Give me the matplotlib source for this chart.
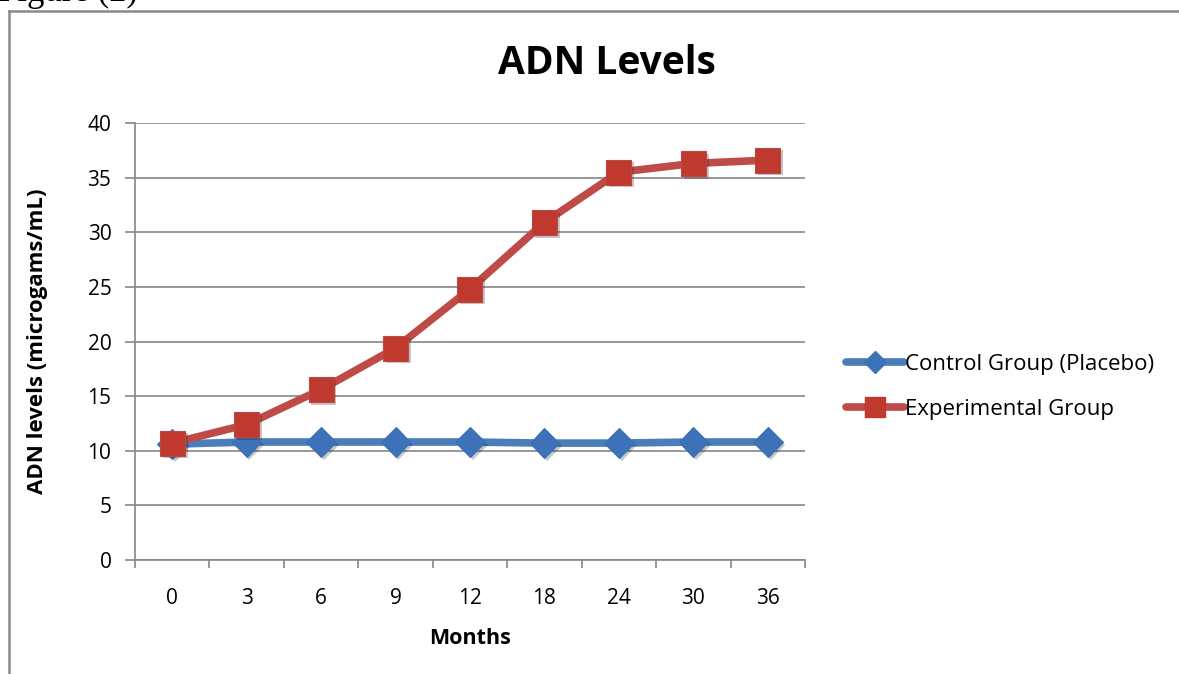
import matplotlib
matplotlib.use("Agg")
import matplotlib.pyplot as plt
import matplotlib.patheffects as pe
from matplotlib.lines import Line2D

# data
months = ["0", "3", "6", "9", "12", "18", "24", "30", "36"]
control = [10.6, 10.8, 10.8, 10.8, 10.8, 10.7, 10.7, 10.8, 10.8]
experimental = [10.7, 12.4, 15.6, 19.4, 24.8, 30.9, 35.5, 36.3, 36.6]
y_ticks = [0, 5, 10, 15, 20, 25, 30, 35, 40]

BLUE_LINE = "#4A7EBB"
BLUE_MARK = "#3D72B8"
RED_LINE = "#BE4B48"
RED_MARK = "#C0392F"
GRID = "#868686"

plt.rcParams["font.family"] = ["Open Sans", "DejaVu Sans"]

fig = plt.figure(figsize=(11.79, 6.74), dpi=100)
W, H = 1179, 674

# frame around the chart (cut off on the right and bottom)
fig.add_artist(Line2D([9 / W, 9 / W], [0, 1 - 11 / H], color="#898989", lw=1.8,
                      transform=fig.transFigure))
fig.add_artist(Line2D([9 / W, 1], [1 - 11 / H, 1 - 11 / H], color="#898989", lw=1.8,
                      transform=fig.transFigure))
fig.text(-2 / W, 1 - 1 / H, "Figure (2)", family="Liberation Serif", fontsize=25,
         ha="left", va="baseline")

ax = fig.add_axes([135 / W, 1 - 560 / H, 670 / W, 437 / H])

x = list(range(len(months)))
shadow = [pe.SimplePatchShadow(offset=(2, -2), alpha=0.25), pe.Normal()]

ax.plot(x, control, color=BLUE_LINE, lw=5.5, solid_capstyle="round", zorder=3)
ax.plot(x, control, ls="none", marker="D", ms=15, color=BLUE_MARK,
        markeredgecolor="#3A6FB0", markeredgewidth=0.8, zorder=4, path_effects=shadow)
ax.plot(x, experimental, color=RED_LINE, lw=5.5, solid_capstyle="round", zorder=5)
ax.plot(x, experimental, ls="none", marker="s", ms=18, color=RED_MARK,
        markeredgecolor="#B84A45", markeredgewidth=0.8, zorder=6, path_effects=shadow)

ax.set_xlim(-0.5, len(months) - 0.5)
ax.set_ylim(0, 40)
ax.set_yticks(y_ticks)
ax.set_yticklabels([str(v) for v in y_ticks], fontsize=15)
ax.yaxis.grid(True, color=GRID, lw=1.2)
ax.set_axisbelow(True)

# category ticks sit between the labels
ax.set_xticks([i - 0.5 for i in range(len(months) + 1)])
ax.set_xticklabels([])
ax.set_xticks(x, minor=True)
ax.set_xticklabels(months, minor=True, fontsize=15)
ax.tick_params(axis="x", which="major", length=6, color=GRID, width=1.2)
ax.tick_params(axis="x", which="minor", length=0, pad=20)
ax.tick_params(axis="y", length=7, color=GRID, width=1.2, pad=10)

for s in ["top", "right"]:
    ax.spines[s].set_visible(False)
for s in ["left", "bottom"]:
    ax.spines[s].set_color(GRID)
    ax.spines[s].set_linewidth(1.2)

ax.set_xlabel("Months", fontsize=15.5, fontweight="bold", labelpad=14)
ax.set_ylabel("ADN levels (microgams/mL)", fontsize=16, fontweight="bold", labelpad=28)
fig.text(607 / W, 1 - 64 / H, "ADN Levels", fontsize=28, fontweight="bold",
         ha="center", va="center")

# legend
h1 = Line2D([], [], color=BLUE_LINE, lw=5.5, marker="D", ms=11, markerfacecolor=BLUE_MARK,
            markeredgecolor=BLUE_MARK, solid_capstyle="round")
h2 = Line2D([], [], color=RED_LINE, lw=5.5, marker="s", ms=14, markerfacecolor=RED_MARK,
            markeredgecolor=RED_MARK, solid_capstyle="round")
fig.legend([h1, h2], ["Control Group (Placebo)", "Experimental Group"],
           loc="center left", bbox_to_anchor=(826 / W, 1 - 387 / H), frameon=False,
           fontsize=16, handlelength=2.6, handletextpad=0.05, labelspacing=1.1)

fig.savefig("out.png", dpi=100)
